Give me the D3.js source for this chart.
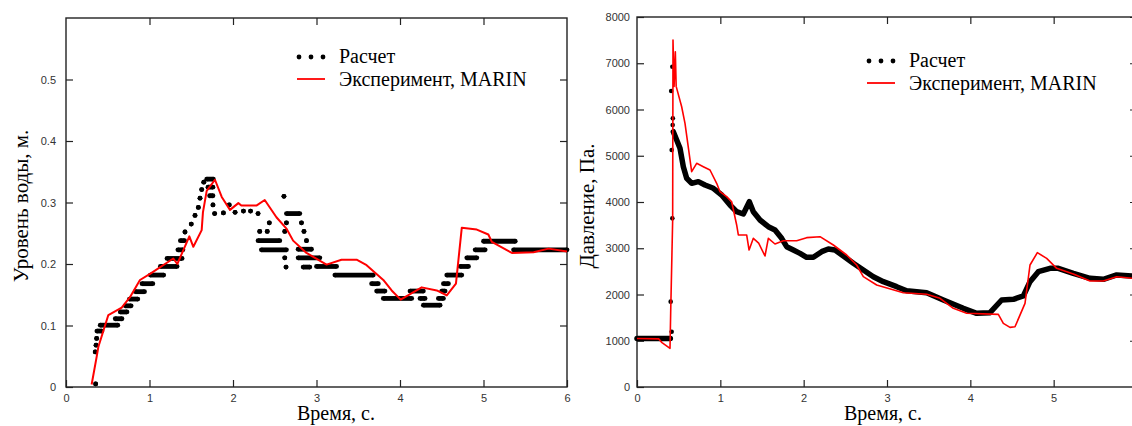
<!DOCTYPE html>
<html>
<head>
<meta charset="utf-8">
<script src="https://cdn.jsdelivr.net/npm/d3@7"></script>
<style>
    body { margin: 0; background: #fff; }
    .tick text { font-family: "Liberation Sans", Arial, sans-serif; font-size: 11px; fill: #333; }
    .tick line { stroke: #222; stroke-width: 1.2; }
    .axis-title { fill: #000; }
    .legend text { font-size: 20px; fill: #000; }
</style>
</head>
<body>
<div id="chart"></div>
<script>
const SERIF = "'Liberation Serif', 'Times New Roman', Times, 'DejaVu Serif', serif";

// ticks
const timeTicks = [0, 1, 2, 3, 4, 5, 6];
const levelTicks = [0, 0.1, 0.2, 0.3, 0.4, 0.5];
const pressTicks = [0, 1000, 2000, 3000, 4000, 5000, 6000, 7000, 8000];

// water level, computed: runs of dense dots [t start, t end, level]
const levelCalcRuns = [
    [0.355, 0.355, 0.005], [0.35, 0.35, 0.057], [0.36, 0.36, 0.068], [0.367, 0.367, 0.079],
    [0.37, 0.43, 0.091], [0.41, 0.62, 0.1005], [0.59, 0.67, 0.111], [0.65, 0.73, 0.122],
    [0.71, 0.78, 0.132], [0.76, 0.86, 0.143], [0.83, 0.94, 0.155], [0.91, 1.04, 0.168],
    [1.01, 1.17, 0.182], [1.13, 1.33, 0.196], [1.21, 1.39, 0.209], [1.34, 1.40, 0.223],
    [1.37, 1.42, 0.238], [1.425, 1.425, 0.252], [1.50, 1.50, 0.265], [1.545, 1.545, 0.279],
    [1.585, 1.585, 0.292], [1.605, 1.605, 0.307], [1.625, 1.625, 0.321], [1.65, 1.65, 0.333],
    [1.685, 1.765, 0.338], [1.70, 1.76, 0.325], [1.72, 1.76, 0.311], [1.76, 1.76, 0.296],
    [1.78, 1.78, 0.282], [1.885, 1.885, 0.283], [1.955, 1.955, 0.296], [2.025, 2.025, 0.284],
    [2.125, 2.125, 0.286], [2.21, 2.21, 0.286], [2.30, 2.30, 0.282], [2.32, 2.32, 0.253],
    [2.41, 2.41, 0.253], [2.435, 2.435, 0.267], [2.30, 2.56, 0.238], [2.34, 2.64, 0.223],
    [2.61, 2.61, 0.31], [2.62, 2.62, 0.253], [2.64, 2.64, 0.267], [2.62, 2.62, 0.21],
    [2.635, 2.635, 0.195], [2.64, 2.80, 0.282], [2.82, 2.82, 0.267], [2.85, 2.85, 0.253],
    [2.88, 2.88, 0.238], [2.78, 2.94, 0.224], [2.78, 3.04, 0.21], [2.84, 2.92, 0.195],
    [3.0, 3.24, 0.196], [3.22, 3.68, 0.182], [3.66, 3.74, 0.168], [3.72, 3.82, 0.156],
    [3.80, 4.14, 0.144], [4.12, 4.28, 0.156], [4.24, 4.30, 0.144], [4.28, 4.48, 0.133],
    [4.46, 4.52, 0.144], [4.50, 4.54, 0.156], [4.52, 4.58, 0.168], [4.56, 4.74, 0.182],
    [4.72, 4.82, 0.196], [4.80, 4.92, 0.21], [4.90, 5.02, 0.223], [5.0, 5.38, 0.237],
    [5.36, 6.0, 0.223]
];

// water level, experiment MARIN [t, level]
const levelExp = [
    [0.307, 0.004], [0.367, 0.049], [0.387, 0.065], [0.507, 0.117], [0.667, 0.129],
    [0.766, 0.146], [0.886, 0.174], [1.006, 0.184], [1.285, 0.209], [1.333, 0.200],
    [1.477, 0.245], [1.525, 0.228], [1.625, 0.255], [1.640, 0.284], [1.685, 0.319],
    [1.784, 0.337], [1.865, 0.309], [1.964, 0.288], [2.064, 0.299], [2.10, 0.295],
    [2.28, 0.295], [2.38, 0.304], [2.52, 0.276], [2.643, 0.257], [2.72, 0.238],
    [2.88, 0.218], [3.12, 0.199], [3.30, 0.207], [3.48, 0.207], [3.60, 0.198],
    [3.80, 0.174], [3.90, 0.157], [4.008, 0.142], [4.26, 0.162], [4.44, 0.157],
    [4.56, 0.149], [4.67, 0.168], [4.74, 0.259], [4.92, 0.256], [5.058, 0.248],
    [5.10, 0.236], [5.34, 0.218], [5.60, 0.219], [5.78, 0.225], [6.0, 0.2205]
];

// pressure, computed [t, Pa]
const pressCalcStart = [[0, 1050], [0.40, 1050]];
const pressCalcDots = [
    [0.404, 1845], [0.416, 1196], [0.424, 3647], [0.416, 5124],
    [0.428, 5665], [0.43, 5809], [0.41, 6400], [0.424, 6925]
];
const pressCalc = [
    [0.436, 5520], [0.476, 5340], [0.516, 5160], [0.556, 4764], [0.596, 4512],
    [0.656, 4404], [0.736, 4440], [0.816, 4368], [0.916, 4296], [1.016, 4151],
    [1.116, 3935], [1.196, 3790], [1.276, 3740], [1.348, 4006], [1.396, 3790],
    [1.476, 3611], [1.576, 3466], [1.656, 3395], [1.736, 3215], [1.796, 3034],
    [1.876, 2962], [1.956, 2890], [2.036, 2804], [2.116, 2804], [2.216, 2926],
    [2.296, 2984], [2.376, 2962], [2.476, 2832], [2.596, 2674], [2.716, 2530],
    [2.836, 2385], [2.956, 2277], [3.116, 2169], [3.236, 2082], [3.476, 2039],
    [3.676, 1881], [3.916, 1701], [4.076, 1593], [4.236, 1607], [4.376, 1881],
    [4.516, 1896], [4.636, 1968], [4.716, 2277], [4.816, 2493], [4.956, 2566],
    [5.056, 2566], [5.236, 2458], [5.436, 2350], [5.596, 2328], [5.756, 2422],
    [5.94, 2400], [6.0, 2400]
];

// pressure, experiment MARIN [t, Pa]
const pressExp = [
    [0, 1050], [0.26, 1040], [0.30, 960], [0.396, 836], [0.404, 1593], [0.428, 3611],
    [0.432, 7500], [0.445, 6500], [0.46, 7250], [0.47, 6500], [0.536, 6060],
    [0.576, 5700], [0.656, 4656], [0.716, 4836], [0.796, 4764], [0.876, 4692],
    [0.956, 4404], [0.996, 4223], [1.076, 4115], [1.136, 4006], [1.196, 3503],
    [1.216, 3287], [1.316, 3287], [1.345, 2962], [1.396, 3215], [1.46, 3110],
    [1.536, 2832], [1.576, 3215], [1.656, 3092], [1.756, 3163], [1.916, 3163],
    [2.036, 3229], [2.196, 3250], [2.356, 3070], [2.516, 2854], [2.636, 2638],
    [2.716, 2385], [2.876, 2205], [3.196, 2039], [3.476, 2004], [3.636, 1918],
    [3.796, 1701], [3.956, 1593], [4.336, 1571], [4.396, 1377], [4.476, 1290],
    [4.536, 1304], [4.656, 1809], [4.716, 2638], [4.804, 2904], [4.916, 2782],
    [5.036, 2566], [5.236, 2443], [5.436, 2292], [5.596, 2292], [5.756, 2385],
    [5.94, 2350], [6.0, 2350]
];

const seriesNames = ["Расчет", "Эксперимент, MARIN"];

const svg = d3.select("#chart").append("svg")
    .attr("width", 1132)
    .attr("height", 426);
svg.append("rect").attr("width", 1132).attr("height", 426).attr("fill", "#fff");

class Panel {
    constructor(opts) {
        this.opts = opts;
        this.initVis();
    }

    initVis() {
        const vis = this;
        const o = vis.opts;

        vis.x = d3.scaleLinear().domain([0, 6]).range([o.left, o.right]);
        vis.y = d3.scaleLinear().domain(o.yDomain).range([o.bottom, o.top]);
        vis.g = svg.append("g");

        // inward ticks on all four sides
        vis.g.append("g")
            .attr("transform", `translate(0, ${o.bottom})`)
            .call(d3.axisBottom(vis.x).tickValues(o.xTicks).tickSizeInner(-7).tickSizeOuter(0).tickPadding(7)
                .tickFormat(d3.format("d")))
            .call(g => g.select(".domain").remove());
        vis.g.append("g")
            .attr("transform", `translate(0, ${o.top})`)
            .call(d3.axisTop(vis.x).tickValues(timeTicks.slice(1, -1)).tickSizeInner(-7).tickSizeOuter(0).tickFormat(""))
            .call(g => g.select(".domain").remove());
        vis.g.append("g")
            .attr("transform", `translate(${o.left}, 0)`)
            .call(d3.axisLeft(vis.y).tickValues(o.yTicks).tickSizeInner(-7).tickSizeOuter(0).tickPadding(o.yPad)
                .tickFormat(o.yFormat))
            .call(g => g.select(".domain").remove());
        vis.g.append("g")
            .attr("transform", `translate(${o.right}, 0)`)
            .call(d3.axisRight(vis.y).tickValues(o.yTicks.slice(1)).tickSizeInner(-7).tickSizeOuter(0).tickFormat(""))
            .call(g => g.select(".domain").remove());

        // frame
        vis.g.append("rect")
            .attr("x", o.left).attr("y", o.top)
            .attr("width", o.right - o.left).attr("height", o.bottom - o.top)
            .attr("fill", "none").attr("stroke", "#222").attr("stroke-width", 1.4);

        // titles
        vis.g.append("text")
            .attr("class", "axis-title")
            .attr("x", o.xTitleX).attr("y", 420)
            .attr("text-anchor", "middle")
            .attr("font-family", SERIF)
            .attr("font-size", "20px")
            .text("Время, с.");
        vis.g.append("text")
            .attr("class", "axis-title")
            .attr("transform", `translate(${o.yTitleX}, 206) rotate(-90)`)
            .attr("text-anchor", "middle")
            .attr("font-family", SERIF)
            .attr("font-size", "21px")
            .text(o.yTitle);

        vis.line = d3.line().x(d => vis.x(d[0])).y(d => vis.y(d[1]));
        vis.plot = vis.g.append("g");
        vis.drawLegend();
    }

    drawLegend() {
        const vis = this;
        const o = vis.opts;
        const lg = vis.g.append("g").attr("class", "legend")
            .attr("transform", `translate(${o.legendX}, ${o.legendY})`);
        lg.selectAll("circle").data([0, 1, 2]).join("circle")
            .attr("cx", d => 2 + d * 12).attr("cy", 0).attr("r", 2.4).attr("fill", "#000");
        lg.append("line").attr("x1", 0).attr("x2", 28).attr("y1", 22).attr("y2", 22)
            .attr("stroke", "#f00").attr("stroke-width", 1.8);
        lg.selectAll("text").data(seriesNames).join("text")
            .attr("x", 42).attr("y", (d, i) => 6 + i * 23)
            .attr("font-family", SERIF)
            .text(d => d);
    }
}

// left: water level
const levelPanel = new Panel({
    left: 66, right: 567, top: 18, bottom: 387,
    xTicks: timeTicks,
    yDomain: [0, 0.6], yTicks: levelTicks, yPad: 10,
    yFormat: d => d === 0 ? "0" : d3.format(".1f")(d),
    yTitle: "Уровень воды, м.", yTitleX: 28, xTitleX: 336,
    legendX: 297, legendY: 57
});
{
    const vis = levelPanel;
    const rows = vis.plot.append("g");
    rows.selectAll("line").data(levelCalcRuns).join("line")
        .attr("x1", d => vis.x(d[0])).attr("x2", d => vis.x(d[1]))
        .attr("y1", d => vis.y(d[2])).attr("y2", d => vis.y(d[2]))
        .attr("stroke", "#000").attr("stroke-width", 4.8);
    const ends = levelCalcRuns.flatMap(d => [[d[0], d[2]], [d[1], d[2]]]);
    rows.selectAll("circle").data(ends).join("circle")
        .attr("cx", d => vis.x(d[0])).attr("cy", d => vis.y(d[1])).attr("r", 2.4).attr("fill", "#000");
    vis.plot.append("path")
        .attr("d", vis.line(levelExp))
        .attr("fill", "none").attr("stroke", "#f00").attr("stroke-width", 2).attr("stroke-linejoin", "round");
}

// right: pressure (frame runs past the window edge, so no "6" label)
const pressPanel = new Panel({
    left: 637, right: 1137, top: 17, bottom: 387,
    xTicks: timeTicks.slice(0, -1),
    yDomain: [0, 8000], yTicks: pressTicks, yPad: 7,
    yFormat: d3.format("d"),
    yTitle: "Давление, Па.", yTitleX: 594, xTitleX: 883,
    legendX: 867, legendY: 61
});
{
    const vis = pressPanel;
    [pressCalcStart, pressCalc].forEach(s => {
        vis.plot.append("path")
            .attr("d", vis.line(s))
            .attr("fill", "none").attr("stroke", "#000").attr("stroke-width", 5.5)
            .attr("stroke-linejoin", "round").attr("stroke-linecap", "round");
    });
    vis.plot.selectAll("circle").data(pressCalcDots).join("circle")
        .attr("cx", d => vis.x(d[0])).attr("cy", d => vis.y(d[1])).attr("r", 2.3).attr("fill", "#000");
    vis.plot.append("path")
        .attr("d", vis.line(pressExp))
        .attr("fill", "none").attr("stroke", "#f00").attr("stroke-width", 1.6).attr("stroke-linejoin", "round");
}
</script>
</body>
</html>
